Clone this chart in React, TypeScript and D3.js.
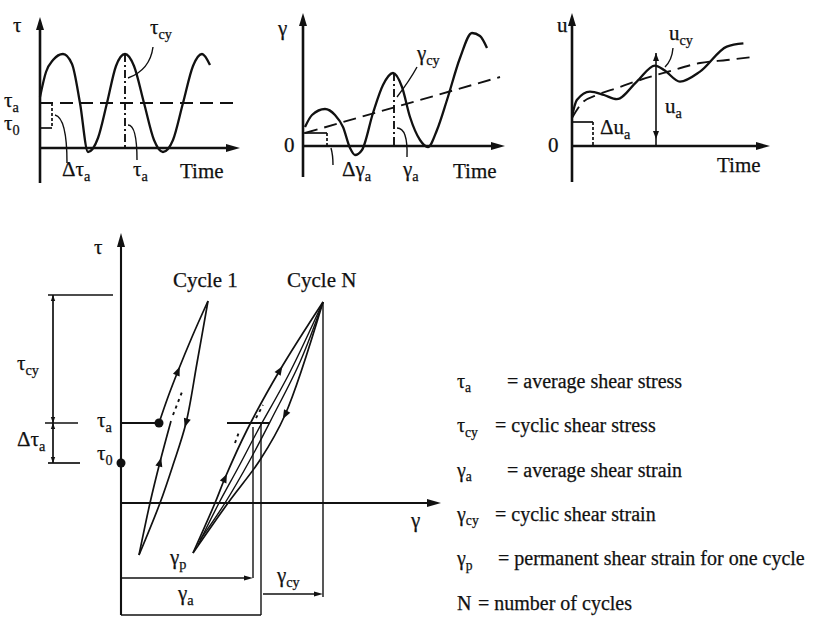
import React from 'react';
import * as d3 from 'd3';

type Pt = [number, number];

const SERIF = 'Liberation Serif, Tinos, DejaVu Serif, serif';
const INK = '#111';

// ---------- shear stress history (top left) ----------
const tauTime = [0, 0.3, 0.65, 1.15, 1.6, 2.0, 2.4, 2.9, 3.35, 3.8, 4.25, 4.7, 5.2, 5.7, 6.15, 6.65, 7.15, 7.65, 8.1, 8.5];
const tauValue = [2.55, 3.8, 4.4, 4.7, 4.2, 2.25, -0.2, 0.5, 2.25, 4.1, 4.7, 4.1, 2.25, 0.4, -0.2, 0.4, 2.25, 4.1, 4.7, 4.15];
const tauAverage = 2.25;
const tauInitial = 1.0;
const tauPeakTime = 4.25;
const tauPeak = 4.7;

// ---------- shear strain history (top middle) ----------
const gamTime = [0.1, 0.45, 1.1, 1.6, 2.0, 2.35, 2.6, 2.95, 3.5, 4.0, 4.5, 4.95, 5.35, 5.85, 6.25, 6.7, 7.2, 7.85, 8.45, 8.85, 9.2];
const gamValue = [0.95, 1.55, 1.85, 1.55, 0.95, -0.1, -0.45, -0.2, 1.65, 3.05, 3.65, 2.95, 1.45, 0.3, -0.05, 0.8, 2.3, 4.4, 5.65, 5.5, 4.9];
const gamMeanTime = [0.1, 9.85];
const gamMeanValue = [0.65, 3.45];
const gamPeakTime = 4.55;
const gamPeak = 3.65;
const gamBracketTime = 1.2;

// ---------- pore pressure history (top right) ----------
const uTime = [0, 0.24, 0.9, 1.6, 2.24, 3.24, 4.15, 4.6, 5.4, 6.4, 7.74, 8.57];
const uValue = [1.47, 2.3, 2.72, 2.55, 2.34, 3.22, 4.02, 3.8, 3.22, 3.72, 4.97, 5.13];
const uMeanTime = [0, 0.5, 1.25, 2.25, 3.4, 4.75, 6.4, 7.75, 9.05];
const uMeanValue = [1.4, 2.15, 2.55, 2.9, 3.3, 3.7, 4.15, 4.3, 4.45];
const uInitial = 1.2;
const uBracketTime = 1.05;
const uMarkTime = 4.2;
const uMarkValue = 4.65;

// ---------- stress–strain loops (bottom) ----------
const tauA = 4.0;
const tau0 = 2.0;
const tauTop = 10.4;
const gammaP = 6.6;
const gammaA = 7.0;
const gammaTop = 10.1;

const c1ReloadG = [1.9, 2.35, 2.85, 3.55, 4.35];
const c1ReloadT = [4.0, 5.3, 6.6, 8.3, 10.1];
const c1UnloadG = [4.35, 3.8, 3.25, 2.6, 1.95, 0.9];
const c1UnloadT = [10.1, 7.0, 4.0, 1.9, 0.0, -2.6];
const c1ReturnG = [0.9, 1.45, 1.95, 2.5];
const c1ReturnT = [-2.6, 0.0, 2.05, 4.1];
const c1DotsG = [2.6, 3.05];
const c1DotsT = [4.4, 5.55];

const cNReloadG = [3.6, 4.7, 5.2, 6.3, 7.95, 10.1];
const cNReloadT = [-2.5, 0.0, 1.25, 3.65, 6.65, 10.05];
const cNUnloadG = [10.1, 8.2, 6.95, 5.35, 3.6];
const cNUnloadT = [10.05, 4.4, 2.15, 0.0, -2.5];
const cNInnerAG = [3.85, 4.9, 5.85, 6.8, 8.45, 10.1];
const cNInnerAT = [-2.1, 0.0, 1.75, 3.55, 6.55, 10.05];
const cNInnerBG = [10.1, 8.95, 7.55, 6.45, 5.2, 3.95];
const cNInnerBT = [10.05, 7.05, 4.25, 2.15, 0.0, -1.85];
const cNDots1G = [5.7, 5.9];
const cNDots1T = [3.0, 3.55];
const cNDots2G = [6.75, 7.1];
const cNDots2T = [4.25, 4.9];

// definitions list
const defSymbols = ['τ', 'τ', 'γ', 'γ', 'γ', 'N'];
const defSubs = ['a', 'cy', 'a', 'cy', 'p', ''];
const defTexts = [
  '= average shear stress',
  '= cyclic shear stress',
  '= average shear strain',
  '= cyclic shear strain',
  '= permanent shear strain for one cycle',
  '= number of cycles',
];

const zip = (a: number[], b: number[]): Pt[] => a.map((v, i) => [v, b[i]]);

function tri(tip: Pt, from: Pt, len: number, half: number): string {
  const dx = tip[0] - from[0];
  const dy = tip[1] - from[1];
  const L = Math.hypot(dx, dy) || 1;
  const ux = dx / L, uy = dy / L;
  const bx = tip[0] - ux * len, by = tip[1] - uy * len;
  return `${tip[0]},${tip[1]} ${bx - uy * half},${by + ux * half} ${bx + uy * half},${by - ux * half}`;
}

// arrowhead centred on `at`, pointing toward `toward`
function midArrow(at: Pt, toward: Pt, len = 9, half = 3.6): string {
  const dx = toward[0] - at[0];
  const dy = toward[1] - at[1];
  const L = Math.hypot(dx, dy) || 1;
  const tip: Pt = [at[0] + (dx / L) * len / 2, at[1] + (dy / L) * len / 2];
  return tri(tip, at, len, half);
}

function Sym({ x, y, main, sub, size = 21, anchor }: { x: number; y: number; main: string; sub?: string; size?: number; anchor?: string }) {
  return (
    <text x={x} y={y} fontFamily={SERIF} fontSize={size} fill={INK} stroke={INK} strokeWidth={0.25} textAnchor={anchor as any}>
      {main}
      {sub ? <tspan fontSize={size * 0.68} dy={size * 0.22}>{sub}</tspan> : null}
    </text>
  );
}

function Word({ x, y, children, size = 21 }: { x: number; y: number; children: React.ReactNode; size?: number }) {
  return (
    <text x={x} y={y} fontFamily={SERIF} fontSize={size} fill={INK} stroke={INK} strokeWidth={0.25}>
      {children}
    </text>
  );
}

function makeScales(x0: number, y0: number, unit = 20) {
  const x = d3.scaleLinear().domain([0, 10]).range([x0, x0 + 10 * unit]);
  const y = d3.scaleLinear().domain([0, 10]).range([y0, y0 - 10 * unit]);
  return { x, y };
}

function TimePanel({
  x0, y0, yLabel, curve, mean, meanCurve, children, axisTop, axisBottom, axisRight,
}: {
  x0: number; y0: number; yLabel: React.ReactNode; curve: Pt[]; mean: Pt[]; meanCurve: any;
  children?: React.ReactNode; axisTop: number; axisBottom: number; axisRight: number;
}) {
  const { x, y } = makeScales(x0, y0);
  const line = d3.line<Pt>().x((d) => x(d[0])).y((d) => y(d[1])).curve(d3.curveMonotoneX);
  const meanLine = d3.line<Pt>().x((d) => x(d[0])).y((d) => y(d[1])).curve(meanCurve);
  return (
    <g>
      <line x1={x(0)} x2={x(0)} y1={y(axisBottom)} y2={y(axisTop) + 8} stroke={INK} strokeWidth={2.6} />
      <polygon points={tri([x(0), y(axisTop)], [x(0), y(0)], 13, 4)} fill={INK} />
      <line x1={x(0)} x2={x(axisRight) - 8} y1={y(0)} y2={y(0)} stroke={INK} strokeWidth={2.6} />
      <polygon points={tri([x(axisRight), y(0)], [x(0), y(0)], 14, 4)} fill={INK} />
      <path d={line(curve) || ''} fill="none" stroke={INK} strokeWidth={2.3} />
      <path d={meanLine(mean) || ''} fill="none" stroke={INK} strokeWidth={1.9} strokeDasharray="13,7" />
      {yLabel}
      {children}
    </g>
  );
}

export default function App() {
  // top-left
  const s1 = makeScales(40, 148);
  // top-middle
  const s2 = makeScales(303, 146);
  // top-right
  const s3 = makeScales(572, 146);
  // bottom stress-strain
  const gx = d3.scaleLinear().domain([0, 16]).range([121, 441]);
  const ty = d3.scaleLinear().domain([0, 10]).range([503, 303]);
  const P = (g: number, t: number): Pt => [gx(g), ty(t)];
  const loop = d3.line<Pt>().x((d) => gx(d[0])).y((d) => ty(d[1])).curve(d3.curveCatmullRom.alpha(0.5));

  const quad = (sx: any, sy: any, a: Pt, c: Pt, b: Pt) =>
    `M${sx(a[0])},${sy(a[1])} Q${sx(c[0])},${sy(c[1])} ${sx(b[0])},${sy(b[1])}`;

  const thin = { stroke: INK, strokeWidth: 1.4, fill: 'none' };
  const med = { stroke: INK, strokeWidth: 1.7, fill: 'none' };

  return (
    <svg width={816} height={617} viewBox="0 0 816 617" style={{ position: 'absolute', left: 0, top: 0, background: '#fff' }}>
      <rect x={0} y={0} width={816} height={617} fill="#fff" />

      {/* τ versus time */}
      <TimePanel
        x0={40} y0={148} axisTop={6.55} axisBottom={-1.75} axisRight={10}
        curve={zip(tauTime, tauValue)}
        mean={[[0, tauAverage], [9.85, tauAverage]]}
        meanCurve={d3.curveLinear}
        yLabel={<Sym x={13} y={32} main="τ" />}
      >
        <line x1={s1.x(0)} x2={s1.x(0.6)} y1={s1.y(tauAverage)} y2={s1.y(tauAverage)} {...med} />
        <line x1={s1.x(0.6)} x2={s1.x(0.6)} y1={s1.y(tauAverage)} y2={s1.y(tauInitial)} {...med} strokeDasharray="3,2" />
        <line x1={s1.x(0)} x2={s1.x(0.6)} y1={s1.y(tauInitial)} y2={s1.y(tauInitial)} {...med} />
        <line x1={s1.x(tauPeakTime)} x2={s1.x(tauPeakTime)} y1={s1.y(tauPeak)} y2={s1.y(0)} stroke={INK} strokeWidth={1.9} strokeDasharray="8,3,2,3" />
        <path d={quad(s1.x, s1.y, [5.65, 5.05], [5.5, 3.9], [4.4, 3.5])} {...thin} />
        <path d={quad(s1.x, s1.y, [0.75, 1.65], [1.35, 1.5], [1.35, -0.75])} {...thin} />
        <path d={quad(s1.x, s1.y, [4.4, 1.15], [4.85, 1.15], [4.85, -0.6])} {...thin} />
        <Sym x={4} y={107} main="τ" sub="a" />
        <Sym x={4} y={130} main="τ" sub="0" />
        <Sym x={62} y={176} main="Δτ" sub="a" />
        <Sym x={150} y={34} main="τ" sub="cy" />
        <Sym x={133} y={176} main="τ" sub="a" />
        <Word x={180} y={178}>Time</Word>
      </TimePanel>

      {/* γ versus time */}
      <TimePanel
        x0={303} y0={146} axisTop={6.65} axisBottom={-1.55} axisRight={10.1}
        curve={zip(gamTime, gamValue)}
        mean={zip(gamMeanTime, gamMeanValue)}
        meanCurve={d3.curveLinear}
        yLabel={<Sym x={278} y={35} main="γ" />}
      >
        <line x1={s2.x(0)} x2={s2.x(gamBracketTime)} y1={s2.y(gamMeanValue[0])} y2={s2.y(gamMeanValue[0])} {...med} />
        <line x1={s2.x(gamBracketTime)} x2={s2.x(gamBracketTime)} y1={s2.y(gamMeanValue[0])} y2={s2.y(0)} {...med} strokeDasharray="3,2" />
        <line x1={s2.x(gamPeakTime)} x2={s2.x(gamPeakTime)} y1={s2.y(gamPeak)} y2={s2.y(0)} stroke={INK} strokeWidth={1.9} strokeDasharray="8,3,2,3" />
        <path d={quad(s2.x, s2.y, [1.4, -0.1], [1.5, -0.45], [1.5, -0.95])} {...thin} />
        <path d={quad(s2.x, s2.y, [5.7, 3.95], [5.35, 3.3], [4.7, 2.45])} {...thin} />
        <path d={quad(s2.x, s2.y, [4.7, 0.9], [5.25, 0.9], [5.2, -0.55])} {...thin} />
        <Word x={284} y={152}>0</Word>
        <Sym x={342} y={176} main="Δγ" sub="a" />
        <Sym x={417} y={60} main="γ" sub="cy" />
        <Sym x={403} y={176} main="γ" sub="a" />
        <Word x={453} y={178}>Time</Word>
      </TimePanel>

      {/* u versus time */}
      <TimePanel
        x0={572} y0={146} axisTop={6.65} axisBottom={-1.8} axisRight={9.9}
        curve={zip(uTime, uValue)}
        mean={zip(uMeanTime, uMeanValue)}
        meanCurve={d3.curveMonotoneX}
        yLabel={<Word x={557} y={32}>u</Word>}
      >
        <line x1={s3.x(0)} x2={s3.x(uBracketTime)} y1={s3.y(uInitial)} y2={s3.y(uInitial)} {...med} />
        <line x1={s3.x(uBracketTime)} x2={s3.x(uBracketTime)} y1={s3.y(uInitial)} y2={s3.y(0)} {...med} strokeDasharray="3,2" />
        <line x1={s3.x(uMarkTime)} x2={s3.x(uMarkTime)} y1={s3.y(uMarkValue)} y2={s3.y(0)} stroke={INK} strokeWidth={1.6} />
        <polygon points={tri([s3.x(uMarkTime), s3.y(uMarkValue)], [s3.x(uMarkTime), s3.y(0)], 8, 3)} fill={INK} />
        <polygon points={tri([s3.x(uMarkTime), s3.y(0.35)], [s3.x(uMarkTime), s3.y(2)], 8, 3)} fill={INK} />
        <path d={quad(s3.x, s3.y, [5.05, 4.9], [5.0, 4.3], [4.65, 3.95])} {...thin} />
        <Word x={548} y={152}>0</Word>
        <Sym x={600} y={134} main="Δu" sub="a" />
        <Sym x={665} y={113} main="u" sub="a" />
        <Sym x={669} y={40} main="u" sub="cy" />
        <Word x={717} y={172}>Time</Word>
      </TimePanel>

      {/* stress–strain diagram */}
      <g>
        {/* axes */}
        <line x1={gx(0)} x2={gx(0)} y1={ty(-5.6)} y2={ty(13.2) + 8} stroke={INK} strokeWidth={2.1} />
        <polygon points={tri(P(0, 13.5), P(0, 0), 14, 4)} fill={INK} />
        <line x1={gx(0)} x2={gx(16) - 8} y1={ty(0)} y2={ty(0)} stroke={INK} strokeWidth={2.1} />
        <polygon points={tri(P(16, 0), P(0, 0), 14, 4)} fill={INK} />

        {/* stress bracket on the left */}
        <line x1={gx(-3.65)} x2={gx(-0.4)} y1={ty(tauTop)} y2={ty(tauTop)} {...med} />
        <line x1={gx(-3.4)} x2={gx(-3.4)} y1={ty(tauTop)} y2={ty(tau0)} {...med} />
        <line x1={gx(-3.8)} x2={gx(-2.15)} y1={ty(tauA)} y2={ty(tauA)} {...med} />
        <line x1={gx(-3.65)} x2={gx(-2.05)} y1={ty(tau0)} y2={ty(tau0)} {...med} />
        <polygon points={tri(P(-3.4, tauTop), P(-3.4, tauA), 6, 2.2)} fill={INK} />
        <polygon points={tri(P(-3.4, tauA), P(-3.4, tauTop), 6, 2.2)} fill={INK} />
        <polygon points={tri(P(-3.4, tauA), P(-3.4, tau0), 6, 2.2)} fill={INK} />
        <polygon points={tri(P(-3.4, tau0), P(-3.4, tauA), 6, 2.2)} fill={INK} />

        {/* τa and τ0 markers */}
        <line x1={gx(0)} x2={gx(c1ReloadG[0])} y1={ty(tauA)} y2={ty(tauA)} stroke={INK} strokeWidth={1.9} />
        <circle cx={gx(c1ReloadG[0])} cy={ty(tauA)} r={4.5} fill={INK} />
        <circle cx={gx(0)} cy={ty(tau0)} r={4.5} fill={INK} />

        {/* cycle 1 */}
        <path d={loop(zip(c1ReloadG, c1ReloadT)) || ''} {...med} />
        <path d={loop(zip(c1UnloadG, c1UnloadT)) || ''} {...med} />
        <path d={loop(zip(c1ReturnG, c1ReturnT)) || ''} {...med} />
        <path d={loop(zip(c1DotsG, c1DotsT)) || ''} stroke={INK} strokeWidth={1.9} fill="none" strokeDasharray="3,4" />
        <polygon points={midArrow(P(2.85, 6.6), P(3.55, 8.3))} fill={INK} />
        <polygon points={midArrow(P(3.25, 4.0), P(2.6, 1.9))} fill={INK} />
        <polygon points={midArrow(P(1.95, 2.05), P(2.5, 4.1))} fill={INK} />

        {/* cycle N */}
        <path d={loop(zip(cNReloadG, cNReloadT)) || ''} {...med} />
        <path d={loop(zip(cNUnloadG, cNUnloadT)) || ''} {...med} />
        <path d={loop(zip(cNInnerAG, cNInnerAT)) || ''} {...thin} />
        <path d={loop(zip(cNInnerBG, cNInnerBT)) || ''} {...thin} />
        <path d={loop(zip(cNDots1G, cNDots1T)) || ''} stroke={INK} strokeWidth={1.9} fill="none" strokeDasharray="3,4" />
        <path d={loop(zip(cNDots2G, cNDots2T)) || ''} stroke={INK} strokeWidth={1.9} fill="none" strokeDasharray="3,4" />
        <polygon points={midArrow(P(5.2, 1.25), P(6.3, 3.65))} fill={INK} />
        <polygon points={midArrow(P(7.95, 6.65), P(10.1, 10.05))} fill={INK} />
        <polygon points={midArrow(P(8.2, 4.4), P(6.95, 2.15))} fill={INK} />
        <line x1={gx(5.3)} x2={gx(7.45)} y1={ty(tauA)} y2={ty(tauA)} stroke={INK} strokeWidth={1.9} />

        {/* strain dimensions */}
        <line x1={gx(gammaP)} x2={gx(gammaP)} y1={ty(tauA - 0.2)} y2={ty(-3.75)} {...thin} />
        <line x1={gx(gammaA)} x2={gx(gammaA)} y1={ty(tauA)} y2={ty(-5.6)} {...thin} />
        <line x1={gx(gammaTop)} x2={gx(gammaTop)} y1={ty(10.05)} y2={ty(-4.7)} {...thin} />
        <line x1={gx(0)} x2={gx(gammaP) - 6} y1={ty(-3.75)} y2={ty(-3.75)} {...med} />
        <polygon points={tri(P(gammaP, -3.75), P(0, -3.75), 9, 2.6)} fill={INK} />
        <line x1={gx(0)} x2={gx(gammaA)} y1={ty(-5.6)} y2={ty(-5.6)} {...med} />
        <line x1={gx(gammaA + 0.1)} x2={gx(gammaTop) - 6} y1={ty(-4.55)} y2={ty(-4.55)} {...med} />
        <polygon points={tri(P(gammaTop, -4.55), P(gammaA, -4.55), 9, 2.6)} fill={INK} />

        {/* labels */}
        <Sym x={94} y={254} main="τ" />
        <Word x={173} y={287}>Cycle 1</Word>
        <Word x={287} y={287}>Cycle N</Word>
        <Sym x={17} y={370} main="τ" sub="cy" />
        <Sym x={17} y={446} main="Δτ" sub="a" />
        <Sym x={97} y={427} main="τ" sub="a" />
        <Sym x={97} y={460} main="τ" sub="0" />
        <Sym x={170} y={564} main="γ" sub="p" />
        <Sym x={178} y={600} main="γ" sub="a" />
        <Sym x={277} y={582} main="γ" sub="cy" />
        <Sym x={411} y={527} main="γ" />
      </g>

      {/* definitions */}
      <g>
        {defTexts.map((t, i) => {
          const yy = 388 + i * 44.3;
          const eqX = [507, 495, 507, 495, 498, 478][i];
          return (
            <g key={i}>
              <Sym x={457} y={yy} main={defSymbols[i]} sub={defSubs[i] || undefined} size={20} />
              <Word x={eqX} y={yy} size={20}>{t}</Word>
            </g>
          );
        })}
      </g>
    </svg>
  );
}
